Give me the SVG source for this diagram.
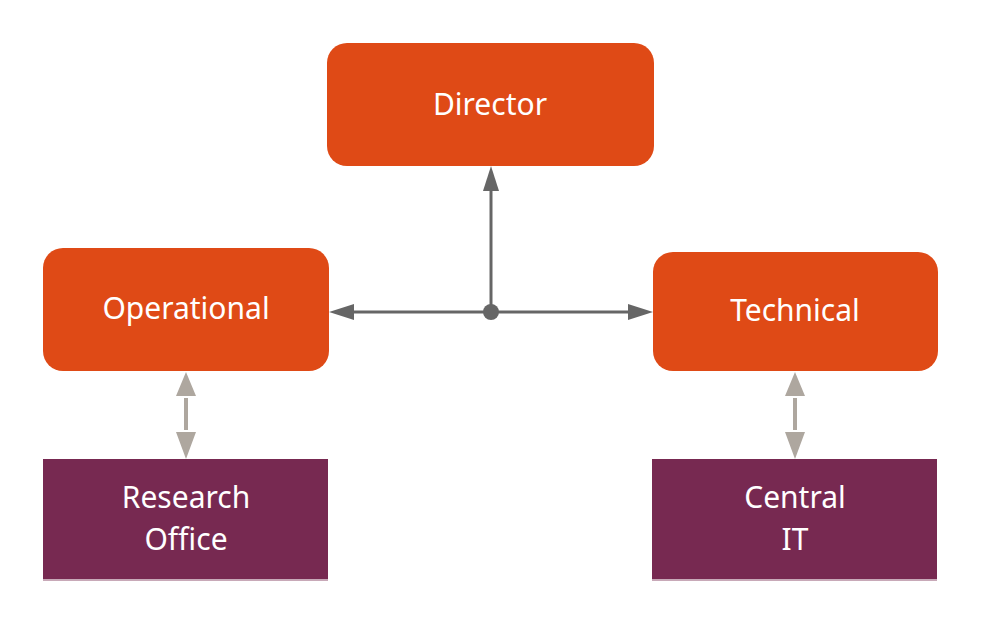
<svg xmlns="http://www.w3.org/2000/svg" width="983" height="624" viewBox="0 0 983 624">
<style>
.o{fill:#df4a16}.p{fill:#772951}
text{font-family:"Noto Sans","Liberation Sans",sans-serif;font-size:30px;fill:#fff;text-anchor:middle}
.c{stroke:#666;stroke-width:3;fill:none}
.g{stroke:#aea79f;stroke-width:4;fill:none}
</style>
<defs>
<marker id="a" viewBox="0 0 10 10" refX="10" refY="5" markerWidth="8" markerHeight="8" markerUnits="userSpaceOnUse" orient="auto"><path d="M0,0L10,5L0,10z" fill="#666"/></marker>
</defs>
<rect width="983" height="624" fill="#fff"/>
<g id="connectors">
<path class="c" d="M491,312V190"/><path d="M491,166l-8,25h16z" fill="#666"/>
<path class="c" d="M491,312H352"/><path d="M329,312l25,-8v16z" fill="#666"/>
<path class="c" d="M491,312H630"/><path d="M653,312l-25,-8v16z" fill="#666"/>
<circle cx="491" cy="312" r="8" fill="#666"/>
<path d="M186,372l-10,24h20z M186,459l-10,-27h20z" fill="#aea79f"/>
<path class="g" d="M186,398V430"/>
<path d="M795,372l-10,24h20z M795,459l-10,-27h20z" fill="#aea79f"/>
<path class="g" d="M795,398V430"/>
</g>
<g id="director"><rect class="o" x="327" y="43" width="327" height="123" rx="20"/><text x="490" y="115">Director</text></g>
<g id="operational"><rect class="o" x="43" y="248" width="286" height="123" rx="20"/><text x="186" y="319">Operational</text></g>
<g id="technical"><rect class="o" x="653" y="252" width="285" height="119" rx="20"/><text x="795" y="321">Technical</text></g>
<g id="research"><rect class="p" x="43" y="459" width="285" height="122"/><line x1="43" y1="580" x2="328" y2="580" stroke="#c8a9b8" stroke-width="2"/><text x="186" y="508">Research</text><text x="186" y="550">Office</text></g>
<g id="central"><rect class="p" x="652" y="459" width="285" height="122"/><line x1="652" y1="580" x2="937" y2="580" stroke="#c8a9b8" stroke-width="2"/><text x="795" y="508">Central</text><text x="795" y="550">IT</text></g>
</svg>
